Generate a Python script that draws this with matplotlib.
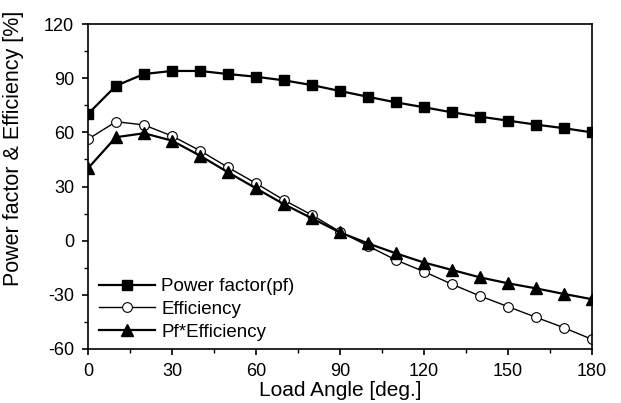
import matplotlib
matplotlib.use("Agg")
import matplotlib.pyplot as plt
from matplotlib.ticker import MultipleLocator

angle = [0, 10, 20, 30, 40, 50, 60, 70, 80, 90, 100, 110, 120, 130, 140, 150, 160, 170, 180]
power_factor = [70.2, 85.8, 92.3, 94.0, 94.0, 92.3, 90.8, 88.8, 86.2, 82.9, 79.7, 76.6, 73.9, 71.1, 68.7, 66.5, 64.3, 62.3, 60.0]
efficiency = [56.2, 65.9, 64.1, 58.0, 49.9, 40.6, 31.8, 22.5, 14.2, 5.0, -2.9, -10.7, -17.1, -24.1, -30.6, -36.5, -42.4, -48.2, -54.6]
pf_eff = [40.1, 57.3, 59.5, 55.4, 47.1, 37.9, 29.0, 20.2, 12.4, 4.6, -1.5, -7.0, -12.1, -16.2, -20.3, -23.6, -26.4, -29.5, -32.4]

plt.rcParams['font.family'] = ['Liberation Sans', 'DejaVu Sans']
plt.rcParams['axes.unicode_minus'] = False

fig = plt.figure(figsize=(6.21, 4.03), dpi=100)
ax = fig.add_axes([0.1417, 0.134, 0.8113, 0.8064])

ax.plot(angle, power_factor, '-s', color='black', lw=1.6, ms=7.5, mfc='black', label='Power factor(pf)')
ax.plot(angle, efficiency, '-o', color='black', lw=1.0, ms=7, mfc='white', mew=0.8, label='Efficiency')
ax.plot(angle, pf_eff, '-^', color='black', lw=1.6, ms=8, mfc='black', label='Pf*Efficiency')

ax.set_xlim(0, 180)
ax.set_ylim(-60, 120)
ax.xaxis.set_major_locator(MultipleLocator(30))
ax.xaxis.set_minor_locator(MultipleLocator(15))
ax.yaxis.set_major_locator(MultipleLocator(30))
ax.yaxis.set_minor_locator(MultipleLocator(15))
ax.tick_params(which='major', direction='out', length=4, width=1.2, labelsize=13)
ax.tick_params(axis='y', which='major', pad=6)
ax.tick_params(axis='x', which='major', pad=6)
ax.tick_params(which='minor', direction='out', length=3, width=1.0)
for s in ax.spines.values():
    s.set_linewidth(1.2)

ax.set_xlabel('Load Angle [deg.]', fontsize=15, labelpad=1)
ax.set_ylabel('Power factor & Efficiency [%]', fontsize=15.5)
ax.yaxis.set_label_coords(-0.128, 0.618)

leg = ax.legend(loc='lower left', bbox_to_anchor=(-0.005, -0.015), frameon=False,
                fontsize=13.5, handlelength=3.0, handletextpad=0.35, labelspacing=0.3,
                borderaxespad=0.3)

fig.savefig('out.png', dpi=100)
